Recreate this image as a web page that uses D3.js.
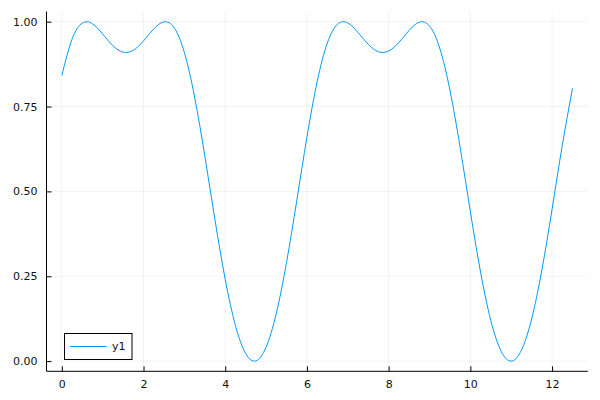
<!DOCTYPE html>
<html><head><meta charset="utf-8">
<script src="https://cdn.jsdelivr.net/npm/d3@7"></script>
<style>body{margin:0;background:#fff}svg{display:block}text{font-family:"DejaVu Sans",sans-serif;font-size:11px;fill:#111}</style>
</head><body>
<svg id="c" width="600" height="400"></svg>
<script>
const xs = [0,0.25,0.5,0.75,1,1.25,1.5,1.75,2,2.25,2.5,2.75,3,3.25,3.5,3.75,4,4.25,4.5,4.75,5,5.25,5.5,5.75,6,6.25,6.5,6.75,7,7.25,7.5,7.75,8,8.25,8.5,8.75,9,9.25,9.5,9.75,10,10.25,10.5,10.75,11,11.25,11.5,11.75,12,12.25,12.5];
const y1 = [0.8415,0.9482,0.9958,0.9939,0.9636,0.9293,0.9103,0.9158,0.9433,0.9786,0.9996,0.9822,0.9091,0.7782,0.6046,0.4154,0.2408,0.1048,0.0225,0.0007,0.0411,0.1406,0.2903,0.4721,0.6598,0.8231,0.9374,0.9927,0.9963,0.9683,0.9333,0.9115,0.9137,0.9388,0.9742,0.9986,0.9874,0.9223,0.7985,0.6292,0.4404,0.2623,0.1200,0.0300,0.0000,0.0322,0.1242,0.2679,0.4470,0.6355,0.8037];
const xTicks = [0,2,4,6,8,10,12];
const yTicks = [0,0.25,0.5,0.75,1];
const yLabels = ["0.00","0.25","0.50","0.75","1.00"];
const seriesName = "y1";

const svg = d3.select("#c");
const L = 46.5, R = 587.8, T = 11.5, B = 371.3;
const xMin = 0, xMax = 12.5, yMin = 0, yMax = 1;
const px = (xMax - xMin) * 0.03, py = (yMax - yMin) * 0.03;
const x = d3.scaleLinear().domain([xMin - px, xMax + px]).range([L, R]);
const y = d3.scaleLinear().domain([yMin - py, yMax + py]).range([B, T]);

// grid
svg.append("g").selectAll("line").data(xTicks).join("line")
  .attr("x1", d => x(d)).attr("x2", d => x(d)).attr("y1", T).attr("y2", B)
  .attr("stroke", "#000").attr("stroke-opacity", 0.1).attr("stroke-width", 0.5);
svg.append("g").selectAll("line").data(yTicks).join("line")
  .attr("y1", d => y(d)).attr("y2", d => y(d)).attr("x1", L).attr("x2", R)
  .attr("stroke", "#000").attr("stroke-opacity", 0.1).attr("stroke-width", 0.5);

// axes
const xAxis = d3.axisBottom(x).tickValues(xTicks).tickSizeInner(-5).tickSizeOuter(0).tickPadding(9).tickFormat(d3.format("d"));
const gx = svg.append("g").attr("transform", `translate(0,${B})`).call(xAxis);
gx.select(".domain").attr("d", `M${L},0H${R}`).attr("stroke", "#000");
gx.selectAll(".tick line").attr("stroke", "#000");
gx.selectAll("text").attr("fill", "#111");

const yAxis = d3.axisLeft(y).tickValues(yTicks).tickSizeInner(-5).tickSizeOuter(0).tickPadding(9).tickFormat((d, i) => yLabels[i]);
const gy = svg.append("g").attr("transform", `translate(${L},0)`).call(yAxis);
gy.select(".domain").attr("d", `M0,${T}V${B}`).attr("stroke", "#000");
gy.selectAll(".tick line").attr("stroke", "#000");
gy.selectAll("text").attr("fill", "#111");
gx.attr("font-size", null).attr("font-family", null);
gy.attr("font-size", null).attr("font-family", null);

// line
const data = xs.map((d, i) => [d, y1[i]]);
svg.append("path").datum(data)
  .attr("fill", "none").attr("stroke", "#009AFA").attr("stroke-width", 1)
  .attr("d", d3.line().x(d => x(d[0])).y(d => y(d[1])).curve(d3.curveNatural));

// legend
const lg = svg.append("g");
lg.append("rect").attr("x", 64.5).attr("y", 333.5).attr("width", 67.5).attr("height", 26)
  .attr("fill", "#fff").attr("stroke", "#000").attr("stroke-width", 1);
lg.append("line").attr("x1", 70).attr("x2", 106.5).attr("y1", 346.5).attr("y2", 346.5)
  .attr("stroke", "#009AFA").attr("stroke-width", 1);
lg.append("text").attr("x", 112).attr("y", 346.5).attr("dy", "0.35em").text(seriesName);
</script>
</body></html>
